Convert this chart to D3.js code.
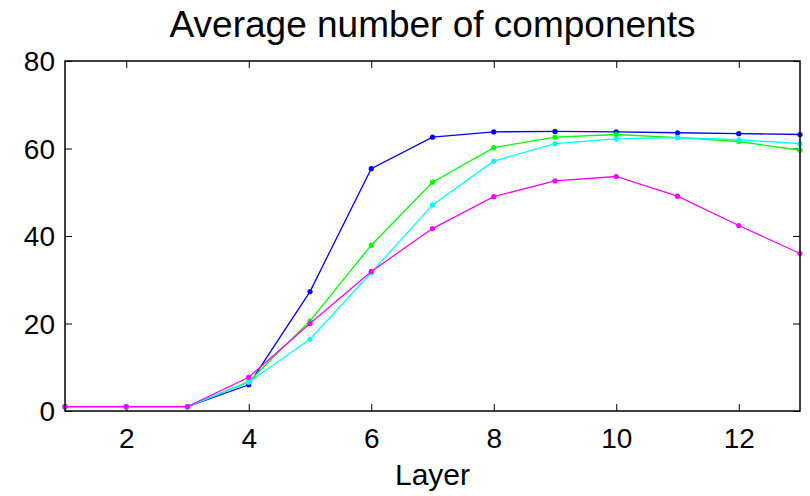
<!DOCTYPE html>
<html>
<head>
<meta charset="utf-8">
<script src="https://cdn.jsdelivr.net/npm/d3@7"></script>
<style>
  body { margin: 0; background: #fff; }
  svg text { font-family: "Liberation Sans", Arial, sans-serif; fill: #000; }
</style>
</head>
<body>
<div id="chart"></div>
<script>
// layers on the x axis
let layers = [1, 2, 3, 4, 5, 6, 7, 8, 9, 10, 11, 12, 13];

// average number of components, one array per run
let blueVals    = [1, 1, 1, 6.0, 27.3, 55.4, 62.6, 63.8, 63.9, 63.8, 63.6, 63.4, 63.2];
let greenVals   = [1, 1, 1, 6.7, 20.6, 37.9, 52.3, 60.2, 62.6, 63.2, 62.5, 61.6, 59.6];
let cyanVals    = [1, 1, 1, 6.6, 16.4, 31.6, 47.1, 57.1, 61.1, 62.2, 62.5, 62.0, 61.1];
let magentaVals = [1, 1, 1, 7.7, 20.0, 31.9, 41.7, 49.0, 52.6, 53.6, 49.1, 42.4, 36.0];

let xTicks = [2, 4, 6, 8, 10, 12];
let yTicks = [0, 20, 40, 60, 80];

var series = [
  { vals: blueVals, color: '#0000ff' },
  { vals: greenVals, color: '#00ff00' },
  { vals: cyanVals, color: '#00ffff' },
  { vals: magentaVals, color: '#ff00ff' }
];

var W = 810, H = 496;
// plot box (note: "top" is reserved on window, so prefixed names)
var pLeft = 65, pRight = 800, pTop = 61, pBottom = 411;

var x = d3.scaleLinear().domain([1, 13]).range([pLeft, pRight]);
var y = d3.scaleLinear().domain([0, 80]).range([pBottom, pTop]);

var svg = d3.select('#chart').append('svg')
  .attr('width', W)
  .attr('height', H);

// ticks pointing inward, on all four sides
var tickLen = 7;
svg.append('g')
  .attr('transform', 'translate(0,' + pBottom + ')')
  .call(d3.axisBottom(x).tickValues(xTicks).tickSizeInner(-tickLen).tickSizeOuter(0).tickFormat(d3.format('d')))
  .call(g => g.select('.domain').remove())
  .call(g => g.selectAll('text').attr('y', 37).attr('dy', 0).style('font-size', '28px'));

svg.append('g')
  .attr('transform', 'translate(0,' + pTop + ')')
  .call(d3.axisTop(x).tickValues(xTicks).tickSizeInner(-tickLen).tickSizeOuter(0).tickFormat(''))
  .call(g => g.select('.domain').remove());

svg.append('g')
  .attr('transform', 'translate(' + pLeft + ',0)')
  .call(d3.axisLeft(y).tickValues(yTicks).tickSizeInner(-tickLen).tickSizeOuter(0))
  .call(g => g.select('.domain').remove())
  .call(g => g.selectAll('text').attr('x', -10).attr('dy', '0.35em').style('font-size', '28px'));

svg.append('g')
  .attr('transform', 'translate(' + pRight + ',0)')
  .call(d3.axisRight(y).tickValues(yTicks).tickSizeInner(-tickLen).tickSizeOuter(0).tickFormat(''))
  .call(g => g.select('.domain').remove());

svg.selectAll('.tick line').attr('stroke', '#000').attr('stroke-width', 1);

// series lines + dots
var line = d3.line()
  .x((d, i) => x(layers[i]))
  .y(d => y(d));

series.forEach(function (s) {
  svg.append('path')
    .datum(s.vals)
    .attr('d', line)
    .attr('fill', 'none')
    .attr('stroke', s.color)
    .attr('stroke-width', 1.3);

  svg.selectAll(null)
    .data(s.vals)
    .enter()
      .append('circle')
        .attr('cx', (d, i) => x(layers[i]))
        .attr('cy', d => y(d))
        .attr('r', 2.6)
        .attr('fill', s.color);
});

// box
svg.append('rect')
  .attr('x', pLeft)
  .attr('y', pTop)
  .attr('width', pRight - pLeft)
  .attr('height', pBottom - pTop)
  .attr('fill', 'none')
  .attr('stroke', '#000')
  .attr('stroke-width', 1.5);

svg.append('text')
  .attr('x', (pLeft + pRight) / 2)
  .attr('y', 37)
  .attr('text-anchor', 'middle')
  .style('font-size', '37px')
  .text('Average number of components');

svg.append('text')
  .attr('x', (pLeft + pRight) / 2)
  .attr('y', 485)
  .attr('text-anchor', 'middle')
  .style('font-size', '30px')
  .text('Layer');
</script>
</body>
</html>
